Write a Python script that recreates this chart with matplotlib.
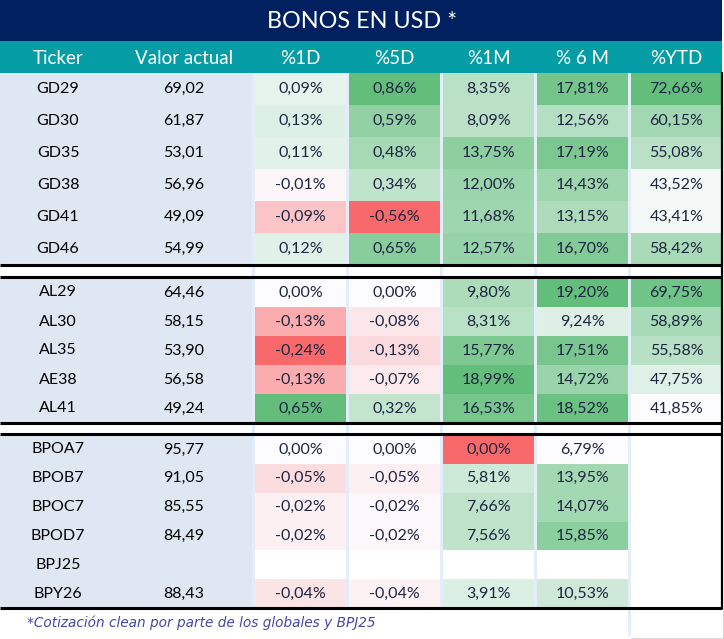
import matplotlib

matplotlib.use("Agg")
import matplotlib.pyplot as plt
from matplotlib import patches
from matplotlib.colors import to_rgb

TITLE = "BONOS EN USD *"
HEADERS = ["Ticker", "Valor actual", "%1D", "%5D", "%1M", "% 6 M", "%YTD"]
FOOTNOTE = "*Cotización clean por parte de los globales y BPJ25"

# group 1 - globales
g1_tickers = ["GD29", "GD30", "GD35", "GD38", "GD41", "GD46"]
g1_valor = [69.02, 61.87, 53.01, 56.96, 49.09, 54.99]
g1_1d = [0.09, 0.13, 0.11, -0.01, -0.09, 0.12]
g1_5d = [0.86, 0.59, 0.48, 0.34, -0.56, 0.65]
g1_1m = [8.35, 8.09, 13.75, 12.00, 11.68, 12.57]
g1_6m = [17.81, 12.56, 17.19, 14.43, 13.15, 16.70]
g1_ytd = [72.66, 60.15, 55.08, 43.52, 43.41, 58.42]

# group 2 - bonares
g2_tickers = ["AL29", "AL30", "AL35", "AE38", "AL41"]
g2_valor = [64.46, 58.15, 53.90, 56.58, 49.24]
g2_1d = [0.00, -0.13, -0.24, -0.13, 0.65]
g2_5d = [0.00, -0.08, -0.13, -0.07, 0.32]
g2_1m = [9.80, 8.31, 15.77, 18.99, 16.53]
g2_6m = [19.20, 9.24, 17.51, 14.72, 18.52]
g2_ytd = [69.75, 58.89, 55.58, 47.75, 41.85]

# group 3 - bopreal
g3_tickers = ["BPOA7", "BPOB7", "BPOC7", "BPOD7", "BPJ25", "BPY26"]
g3_valor = [95.77, 91.05, 85.55, 84.49, None, 88.43]
g3_1d = [0.00, -0.05, -0.02, -0.02, None, -0.04]
g3_5d = [0.00, -0.05, -0.02, -0.02, None, -0.04]
g3_1m = [0.00, 5.81, 7.66, 7.56, None, 3.91]
g3_6m = [6.79, 13.95, 14.07, 15.85, None, 10.53]
g3_ytd = [None, None, None, None, None, None]

# layout in pixels
W, H = 724, 639
TITLE_BOTTOM = 41
HEADER_BOTTOM = 73
GROUP_SPANS = [(73, 265), (278, 423), (435, 608)]
LEFT_BLOCK = (0, 252)
TICKER_X, VALOR_X = 58, 184
COL_X0 = [255, 349, 443, 537, 631]
COL_W = 91

NAVY = "#00205F"
TEAL = "#049DA6"
LEFT_BG = "#DFE7F2"
SEP = "#E3EEFA"
TEXT = "#1C2541"
RED = "#F8696B"
WHITE = "#FCFCFF"
GREEN = "#63BE7B"
FONT = ["Lato", "DejaVu Sans"]

groups = [
    (g1_tickers, g1_valor, [g1_1d, g1_5d, g1_1m, g1_6m, g1_ytd]),
    (g2_tickers, g2_valor, [g2_1d, g2_5d, g2_1m, g2_6m, g2_ytd]),
    (g3_tickers, g3_valor, [g3_1d, g3_5d, g3_1m, g3_6m, g3_ytd]),
]
three_color = [True, True, True, False, False]


def fmt(v, pct=False):
    s = f"{v:.2f}".replace(".", ",")
    return s + "%" if pct else s


def mix(c1, c2, t):
    a, b = to_rgb(c1), to_rgb(c2)
    return tuple(a[i] + (b[i] - a[i]) * t for i in range(3))


def scale_color(v, lo, hi, three):
    if three:
        if v <= lo:
            return to_rgb(RED)
        if v < 0:
            return mix(WHITE, RED, v / lo)
        return mix(WHITE, GREEN, v / hi)
    return mix(WHITE, GREEN, (v - lo) / (hi - lo))


# column ranges across all groups
col_ranges = []
for c in range(5):
    vals = [v for _, _, cols in groups for v in cols[c] if v is not None]
    col_ranges.append((min(vals), max(vals)) if vals else (0, 1))

fig = plt.figure(figsize=(W / 100, H / 100), dpi=100, facecolor="white")
ax = fig.add_axes([0, 0, 1, 1])
ax.set_xlim(0, W)
ax.set_ylim(H, 0)
ax.axis("off")

ax.add_patch(patches.Rectangle((0, 0), 722, TITLE_BOTTOM, color=NAVY, lw=0))
ax.text(362, TITLE_BOTTOM / 2 + 1, TITLE, color="white", fontsize=16.8,
        ha="center", va="center", family=FONT)
ax.add_patch(patches.Rectangle((0, TITLE_BOTTOM), 722, HEADER_BOTTOM - TITLE_BOTTOM,
                               color=TEAL, lw=0))
header_x = [TICKER_X, VALOR_X] + [x + COL_W / 2 for x in COL_X0]
for x, label in zip(header_x, HEADERS):
    ax.text(x, (TITLE_BOTTOM + HEADER_BOTTOM) / 2 + 1, label, color="white",
            fontsize=13.5, ha="center", va="center", family=FONT)

for (tickers, valor, cols), (y0, y1) in zip(groups, GROUP_SPANS):
    n = len(tickers)
    rh = (y1 - y0) / n
    ax.add_patch(patches.Rectangle((LEFT_BLOCK[0], y0), LEFT_BLOCK[1], y1 - y0,
                                   color=LEFT_BG, lw=0))
    for i in range(n):
        yc = y0 + rh * (i + 0.5)
        ax.text(TICKER_X, yc, tickers[i], color="black", fontsize=11.5,
                ha="center", va="center", family=FONT)
        if valor[i] is not None:
            ax.text(VALOR_X, yc, fmt(valor[i]), color="black", fontsize=11.5,
                    ha="center", va="center", family=FONT)
        for c in range(5):
            v = cols[c][i]
            if v is None:
                continue
            lo, hi = col_ranges[c]
            ax.add_patch(patches.Rectangle((COL_X0[c], y0 + rh * i), COL_W, rh,
                                           color=scale_color(v, lo, hi, three_color[c]),
                                           lw=0))
            ax.text(COL_X0[c] + COL_W / 2, yc, fmt(v, pct=True), color=TEXT,
                    fontsize=11.5, ha="center", va="center", family=FONT)
    # group borders
    ax.plot([0, 722], [y1, y1], color="black", lw=2.2, solid_capstyle="butt")
    if y0 != GROUP_SPANS[0][0]:
        ax.plot([0, 722], [y0 - 1, y0 - 1], color="black", lw=2.2, solid_capstyle="butt")

# right border of the table body
ax.plot([721.5, 721.5], [HEADER_BOTTOM, GROUP_SPANS[2][1]], color="black", lw=1.6)

# light column separators (the last one runs down past the table)
sep_x = [LEFT_BLOCK[1]] + [x + COL_W for x in COL_X0[:-1]]
for k, x in enumerate(sep_x):
    bottom = 636 if k == len(sep_x) - 1 else GROUP_SPANS[2][1] + 1
    ax.add_patch(patches.Rectangle((x, HEADER_BOTTOM), 3, bottom - HEADER_BOTTOM,
                                   color=SEP, lw=0))

# footnote cell outline
ax.plot([631, 723, 723], [638, 638, 609], color="#D9D9D9", lw=0.8)
ax.text(27, 623, FOOTNOTE, color="#4646A8", fontsize=9.8, style="italic",
        ha="left", va="center", family="DejaVu Sans")

fig.savefig("out.png", dpi=100, facecolor="white")
